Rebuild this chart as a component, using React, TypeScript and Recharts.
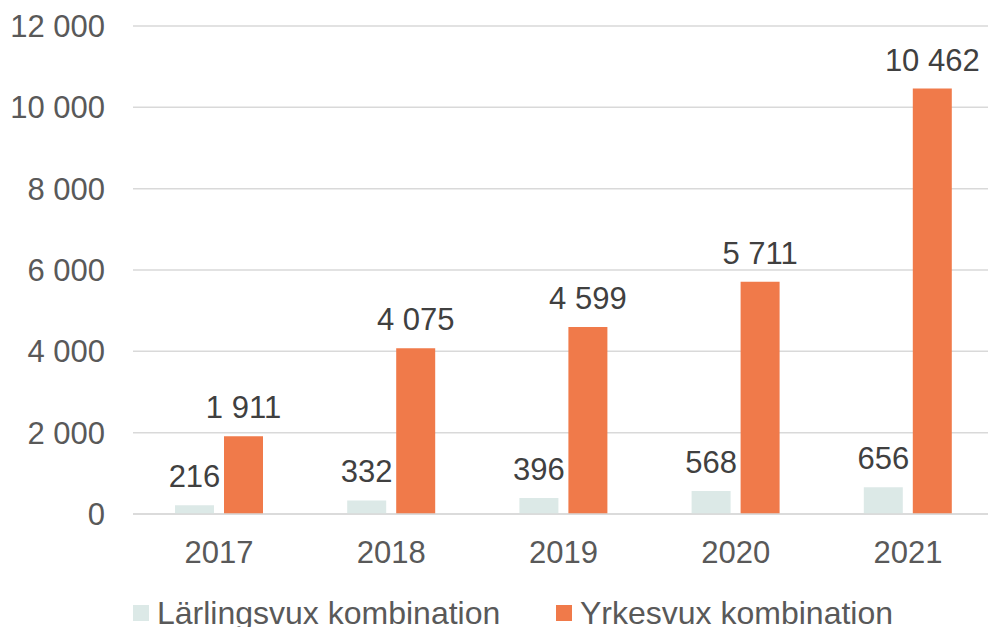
import React from 'react';
import { BarChart, Bar, XAxis, YAxis, CartesianGrid, LabelList } from 'recharts';

const years = ['2017', '2018', '2019', '2020', '2021'];
const larlingsvux = [216, 332, 396, 568, 656];
const yrkesvux = [1911, 4075, 4599, 5711, 10462];
const yTicks = [0, 2000, 4000, 6000, 8000, 10000, 12000];

const series = [
    { key: 'larling', name: 'Lärlingsvux kombination', color: '#DCE9E7' },
    { key: 'yrkes', name: 'Yrkesvux kombination', color: '#F07A4A' },
];

const data = years.map((year, i) => ({ year, larling: larlingsvux[i], yrkes: yrkesvux[i] }));

const fmt = (v: number | string) => String(v).replace(/\B(?=(\d{3})+(?!\d))/g, ' ');

const FONT = '"Liberation Sans", Arial, sans-serif';
const FS = 31;

// plain <text> so the label never wraps to the bar width
const ValueLabel = (props: any) => {
    const { x, y, width, value } = props;
    return (
        <text
            x={Number(x) + Number(width) / 2}
            y={Number(y) - 18}
            textAnchor="middle"
            fill="#404040"
            fontSize={FS}
            fontFamily={FONT}
        >
            {fmt(value)}
        </text>
    );
};

const App: React.FC = () => {
    return (
        <div style={{ position: 'absolute', left: 0, top: 0, width: 988, height: 627, overflow: 'hidden', background: '#fff', fontFamily: FONT }}>
            <BarChart
                width={988}
                height={627}
                data={data}
                margin={{ top: 26, right: -6, left: 0, bottom: 53 }}
                barSize={39}
                barGap={10}
            >
                <CartesianGrid vertical={false} stroke="#D9D9D9" strokeWidth={1.5} />
                <XAxis
                    dataKey="year"
                    height={60}
                    axisLine={{ stroke: '#D9D9D9', strokeWidth: 1.5 }}
                    tickLine={false}
                    tickSize={0}
                    tickMargin={27}
                    tick={{ fill: '#595959', fontSize: FS, fontFamily: FONT }}
                />
                <YAxis
                    width={133}
                    domain={[0, 12000]}
                    ticks={yTicks}
                    axisLine={false}
                    tickLine={false}
                    tickSize={0}
                    tickMargin={28}
                    tickFormatter={fmt}
                    tick={{ fill: '#595959', fontSize: FS, fontFamily: FONT }}
                />
                {series.map((s) => (
                    <Bar key={s.key} dataKey={s.key} name={s.name} fill={s.color} isAnimationActive={false}>
                        <LabelList dataKey={s.key} content={ValueLabel} />
                    </Bar>
                ))}
            </BarChart>
            {series.map((s, i) => (
                <div
                    key={s.key}
                    style={{
                        position: 'absolute',
                        left: i === 0 ? 133 : 556,
                        top: 596,
                        display: 'flex',
                        alignItems: 'center',
                        whiteSpace: 'nowrap',
                        fontSize: 32,
                        color: '#595959',
                        lineHeight: '34px',
                    }}
                >
                    <span style={{ display: 'inline-block', width: 16, height: 16, background: s.color, marginRight: 8 }} />
                    <span>{s.name}</span>
                </div>
            ))}
        </div>
    );
};

export default App;
